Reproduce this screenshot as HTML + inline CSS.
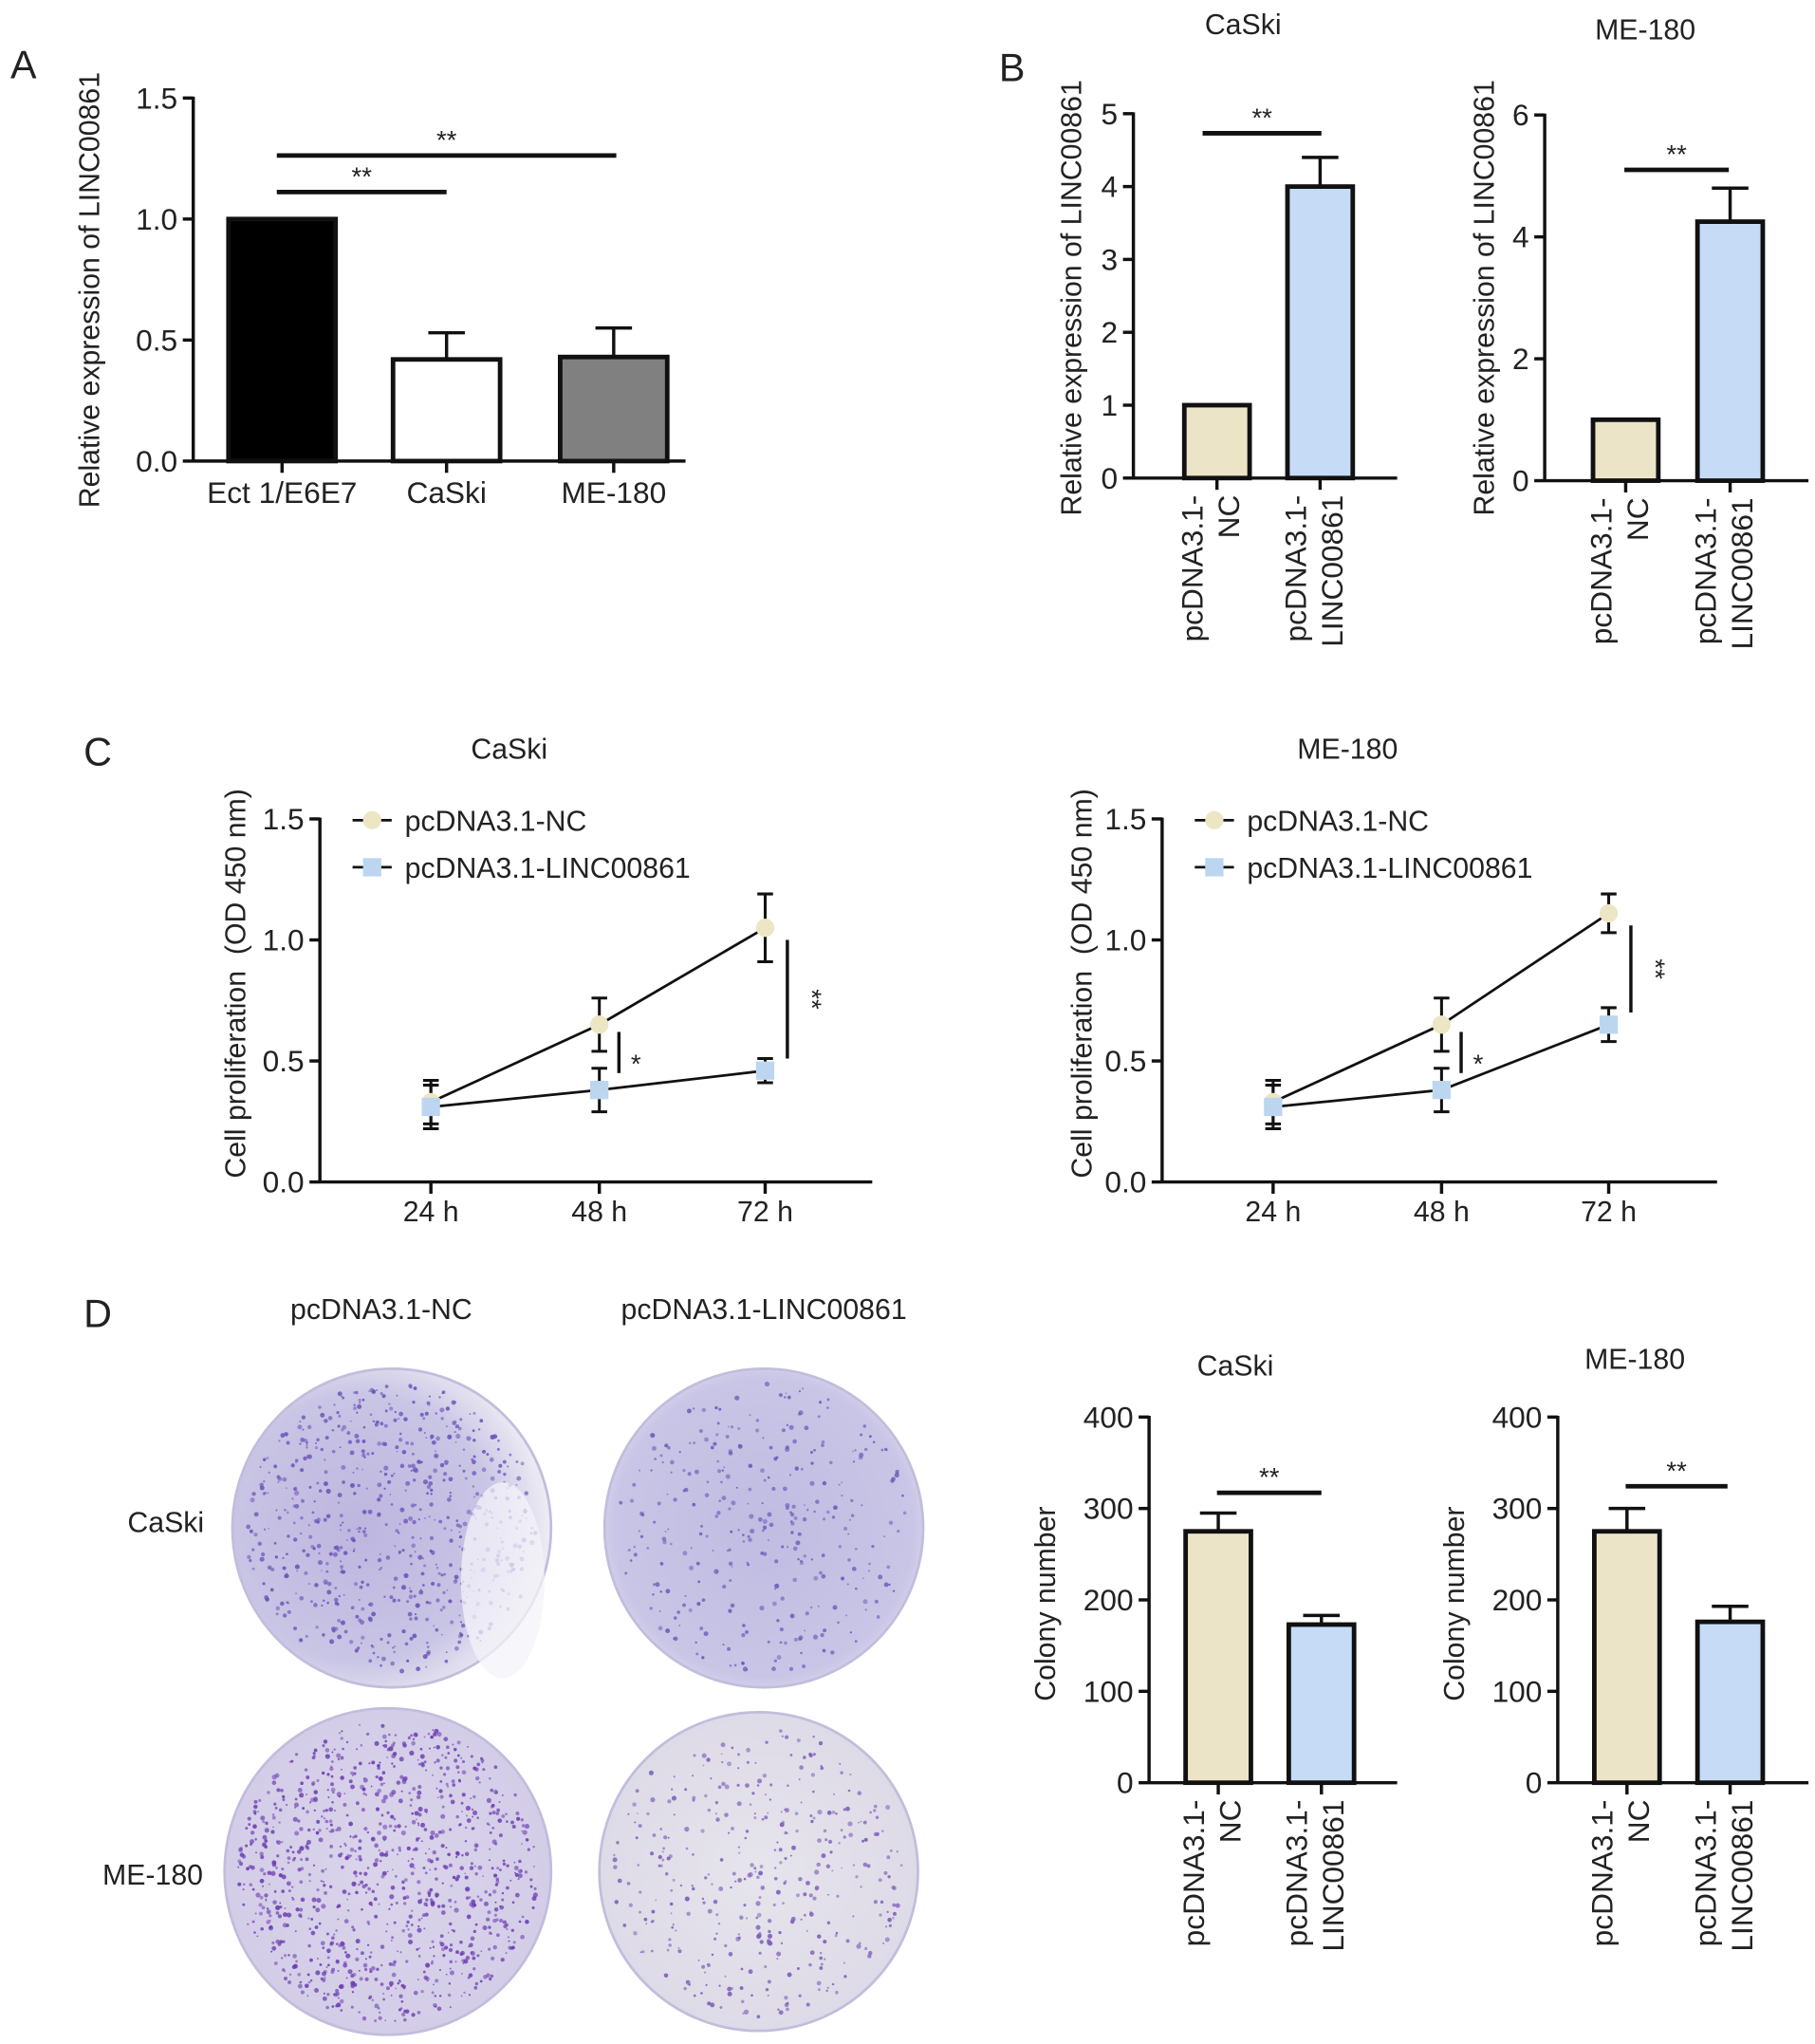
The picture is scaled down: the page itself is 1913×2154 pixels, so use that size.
<!DOCTYPE html>
<html><head><meta charset="utf-8"><style>
html,body{margin:0;padding:0;background:#fff}
svg{display:block}
text{font-family:"Liberation Sans",Arial,sans-serif;fill:#222}
</style></head><body>
<svg id="fig" width="1913" height="2154" viewBox="0 0 1390 1565" xmlns="http://www.w3.org/2000/svg">
<defs>
<radialGradient id="gTL" cx="40%" cy="50%" r="60%"><stop offset="0" stop-color="#bdb6df"/><stop offset="0.7" stop-color="#c9c5e5"/><stop offset="1" stop-color="#eeedf4"/></radialGradient>
<radialGradient id="gTR" cx="50%" cy="50%" r="55%"><stop offset="0" stop-color="#c0bce2"/><stop offset="0.85" stop-color="#c8c5e6"/><stop offset="1" stop-color="#dedcef"/></radialGradient>
<radialGradient id="gBL" cx="50%" cy="50%" r="55%"><stop offset="0" stop-color="#d9d3ea"/><stop offset="0.9" stop-color="#d4cde8"/><stop offset="1" stop-color="#c9c0e2"/></radialGradient>
<radialGradient id="gBR" cx="50%" cy="50%" r="55%"><stop offset="0" stop-color="#e6e4ec"/><stop offset="0.9" stop-color="#dedbe8"/><stop offset="1" stop-color="#d2cde3"/></radialGradient>
</defs>
<text x="8" y="60" font-size="30">A</text>
<text x="765" y="62" font-size="30">B</text>
<text x="64" y="586" font-size="30">C</text>
<text x="64" y="1016" font-size="30">D</text>
<text x="952" y="26" font-size="22" text-anchor="middle">CaSki</text>
<text x="1260" y="30" font-size="22" text-anchor="middle">ME-180</text>
<text x="390" y="581" font-size="22" text-anchor="middle">CaSki</text>
<text x="1032" y="581" font-size="22" text-anchor="middle">ME-180</text>
<text x="292" y="1010" font-size="22" text-anchor="middle">pcDNA3.1-NC</text>
<text x="585" y="1010" font-size="22" text-anchor="middle">pcDNA3.1-LINC00861</text>
<text x="127" y="1173" font-size="22" text-anchor="middle">CaSki</text>
<text x="117" y="1443" font-size="22" text-anchor="middle">ME-180</text>
<text x="946" y="1053" font-size="22" text-anchor="middle">CaSki</text>
<text x="1252" y="1048" font-size="22" text-anchor="middle">ME-180</text>
<text transform="translate(76,222) rotate(-90)" font-size="22" text-anchor="middle">Relative expression of LINC00861</text>
<text transform="translate(828,228) rotate(-90)" font-size="22" text-anchor="middle">Relative expression of LINC00861</text>
<text transform="translate(1144,228) rotate(-90)" font-size="22" text-anchor="middle">Relative expression of LINC00861</text>
<text transform="translate(188,753) rotate(-90)" font-size="22" text-anchor="middle" xml:space="preserve">Cell proliferation  (OD 450 nm)</text>
<text transform="translate(836,753) rotate(-90)" font-size="22" text-anchor="middle" xml:space="preserve">Cell proliferation  (OD 450 nm)</text>
<text transform="translate(808,1228) rotate(-90)" font-size="22" text-anchor="middle">Colony number</text>
<text transform="translate(1121,1228) rotate(-90)" font-size="22" text-anchor="middle">Colony number</text>
<g id="plates"></g>
<g id="charts"></g>
</svg>
<script>
const A_categories = ['Ect 1/E6E7', 'CaSki', 'ME-180'];
const A_values = [1.0, 0.42, 0.43];
const A_errors = [0, 0.11, 0.12];
const A_ticks = ['0.0', '0.5', '1.0', '1.5'];
const B_categories = ['NC', 'LINC00861'];
const B1_values = [1.0, 4.0];
const B1_errors = [0, 0.4];
const B1_ticks = [0, 1, 2, 3, 4, 5];
const B2_values = [1.0, 4.25];
const B2_errors = [0, 0.55];
const B2_ticks = [0, 2, 4, 6];
const C_categories = ['24 h', '48 h', '72 h'];
const C_ticks = ['0.0', '0.5', '1.0', '1.5'];
const C1_nc = [0.33, 0.65, 1.05];
const C1_nc_err = [0.09, 0.11, 0.14];
const C1_linc = [0.31, 0.38, 0.46];
const C1_linc_err = [0.09, 0.09, 0.05];
const C2_nc = [0.33, 0.65, 1.11];
const C2_nc_err = [0.09, 0.11, 0.08];
const C2_linc = [0.31, 0.38, 0.65];
const C2_linc_err = [0.09, 0.09, 0.07];
const D1_values = [275, 173];
const D1_errors = [20, 10];
const D2_values = [275, 176];
const D2_errors = [25, 17];
const D_ticks = [0, 100, 200, 300, 400];

const NS = 'http://www.w3.org/2000/svg';
const root = document.getElementById('charts');
function mk(tag, attrs, parent) {
  const el = document.createElementNS(NS, tag);
  for (const k in attrs) el.setAttribute(k, attrs[k]);
  (parent || root).appendChild(el);
  return el;
}
function line(x1, y1, x2, y2, w, name) {
  const el = mk('line', {x1, y1, x2, y2, stroke: '#111', 'stroke-width': w});
  
  
  return el;
}
function txt(x, y, s, size, anchor, name, tr) {
  const el = mk('text', {x, y, 'font-size': size, 'text-anchor': anchor});
  if (tr) el.setAttribute('transform', tr);
  el.textContent = s;
  
  
  return el;
}
function yAxis(p, ticks, tickLabels) {
  line(p.x0, p.yTop - 1, p.x0, p.y0 + 1, 2.5, p.id + '-y-axis');
  ticks.forEach((t, i) => {
    const y = p.ys(+t);
    line(p.x0 - 8, y, p.x0, y, 2.5, p.id + '-y-tick');
    txt(p.x0 - 12, y + 8, tickLabels[i], 23, 'end', p.id + '-y-tick-label');
  });
  line(p.x0, p.y0, p.x1, p.y0, 2.5, p.id + '-x-axis');
}
function scale(y0, yTop, vmax) { return v => y0 - (y0 - yTop) * v / vmax; }

function barChart(p, vals, errs, fills, cats, ticks) {
  yAxis(p, ticks, ticks.map(String));
  vals.forEach((v, i) => {
    const cx = p.cx[i], y = p.ys(v);
    const r = mk('rect', {x: cx - p.bw / 2, y: y, width: p.bw, height: p.y0 - y, fill: fills[i], stroke: '#111', 'stroke-width': 3.5});
    
    
    if (errs[i] > 0) {
      const ye = p.ys(v + errs[i]);
      line(cx, y, cx, ye, 2.5, p.id + '-error-bar');
      line(cx - 14, ye, cx + 14, ye, 2.5, p.id + '-error-cap');
    }
    line(cx, p.y0, cx, p.y0 + 9, 2.5, p.id + '-x-tick');
    if (p.rotLabels) {
      const yb = p.y0 + 13;
      txt(cx - 11, yb, 'pcDNA3.1-', 23, 'end', p.id + '-x-label', 'rotate(-90 ' + (cx - 11) + ' ' + yb + ')');
      txt(cx + 17, yb, cats[i], 23, 'end', p.id + '-x-label', 'rotate(-90 ' + (cx + 17) + ' ' + yb + ')');
    } else {
      txt(cx, p.y0 + 32, cats[i], 23, 'middle', p.id + '-x-label');
    }
  });
}
function sig(x1, x2, y, label, name) {
  line(x1, y, x2, y, 3.5, name);
  txt((x1 + x2) / 2, y - 5, label, 20, 'middle', name + '-stars');
}

const pA = {id: 'a', x0: 148, x1: 525, y0: 353, yTop: 75, bw: 82, cx: [216, 342, 470], rotLabels: false};
pA.ys = scale(353, 75, 1.5);
barChart(pA, A_values, A_errors, ['#000', '#fff', '#808080'], A_categories, A_ticks);
sig(212, 342, 147, '**', 'a-sig-caski');
sig(212, 472, 119, '**', 'a-sig-me180');

const fillsB = ['#ece4c6', '#c6dcf6'];
const pB1 = {id: 'b1', x0: 868, x1: 1070, y0: 366, yTop: 87, bw: 50, cx: [932, 1011], rotLabels: true};
pB1.ys = scale(366, 87, 5);
barChart(pB1, B1_values, B1_errors, fillsB, B_categories, B1_ticks);
sig(921, 1012, 102, '**', 'b1-sig');
const pB2 = {id: 'b2', x0: 1183, x1: 1385, y0: 368, yTop: 88, bw: 50, cx: [1245, 1325], rotLabels: true};
pB2.ys = scale(368, 88, 6);
barChart(pB2, B2_values, B2_errors, fillsB, B_categories, B2_ticks);
sig(1244, 1324, 130, '**', 'b2-sig');

function lineChart(p, nc, ncE, li, liE, sig2y) {
  yAxis(p, C_ticks.map(Number), C_ticks);
  C_categories.forEach((c, i) => {
    line(p.cx[i], p.y0, p.cx[i], p.y0 + 9, 2.5, p.id + '-x-tick');
    txt(p.cx[i], p.y0 + 30, c, 22, 'middle', p.id + '-x-label');
  });
  [[nc, ncE, 'nc'], [li, liE, 'linc']].forEach(([v, e, s]) => {
    const pts = v.map((d, i) => p.cx[i] + ',' + p.ys(d)).join(' ');
    const pl = mk('polyline', {points: pts, fill: 'none', stroke: '#111', 'stroke-width': 2});
    
    
    v.forEach((d, i) => {
      const x = p.cx[i], y1 = p.ys(d + e[i]), y2 = p.ys(d - e[i]);
      line(x, y1, x, y2, 2.2, p.id + '-error-bar-' + s);
      line(x - 6, y1, x + 6, y1, 2.2, p.id + '-error-cap-' + s);
      line(x - 6, y2, x + 6, y2, 2.2, p.id + '-error-cap-' + s);
    });
  });
  nc.forEach((d, i) => {
    const c = mk('circle', {cx: p.cx[i], cy: p.ys(d), r: 7, fill: '#ece6c4'});
    
    
  });
  li.forEach((d, i) => {
    const r = mk('rect', {x: p.cx[i] - 7, y: p.ys(d) - 7, width: 14, height: 14, fill: '#bcd6f0'});
    
    
  });
  const s1x = p.cx[1] + 15;
  line(s1x, p.ys(nc[1] - 0.03), s1x, p.ys(li[1] + 0.07), 2.5, p.id + '-sig-48h');
  txt(s1x + 13, p.ys((nc[1] + li[1]) / 2) + 12, '*', 20, 'middle', p.id + '-sig-48h-star');
  const s2x = p.cx[2] + 17;
  const top = nc[2] - 0.05, bot = li[2] + sig2y;
  line(s2x, p.ys(top), s2x, p.ys(bot), 2.5, p.id + '-sig-72h');
  txt(s2x + 12, p.ys((top + bot) / 2), '**', 20, 'middle', p.id + '-sig-72h-stars', 'rotate(90 ' + (s2x + 12) + ' ' + p.ys((top + bot) / 2) + ')');
  line(p.x0 + 25, 628, p.x0 + 55, 628, 2, p.id + '-legend-line-nc');
  const lc = mk('circle', {cx: p.x0 + 40, cy: 628, r: 7, fill: '#ece6c4'});
  
  
  txt(p.x0 + 65, 636, 'pcDNA3.1-NC', 22, 'start', p.id + '-legend-label-nc');
  line(p.x0 + 25, 664, p.x0 + 55, 664, 2, p.id + '-legend-line-linc');
  const ls = mk('rect', {x: p.x0 + 33, y: 657, width: 14, height: 14, fill: '#bcd6f0'});
  
  
  txt(p.x0 + 65, 672, 'pcDNA3.1-LINC00861', 22, 'start', p.id + '-legend-label-linc');
}
const pC1 = {id: 'c1', x0: 245, x1: 668, y0: 905, yTop: 627, cx: [330, 459, 586]};
pC1.ys = scale(905, 627, 1.5);
lineChart(pC1, C1_nc, C1_nc_err, C1_linc, C1_linc_err, 0.05);
const pC2 = {id: 'c2', x0: 890, x1: 1315, y0: 905, yTop: 627, cx: [975, 1104, 1232]};
pC2.ys = scale(905, 627, 1.5);
lineChart(pC2, C2_nc, C2_nc_err, C2_linc, C2_linc_err, 0.05);

const pD1 = {id: 'd1', x0: 880, x1: 1070, y0: 1365, yTop: 1085, bw: 50, cx: [933, 1012], rotLabels: true};
pD1.ys = scale(1365, 1085, 400);
barChart(pD1, D1_values, D1_errors, fillsB, B_categories, D_ticks);
sig(932, 1012, 1143, '**', 'd1-sig');
const pD2 = {id: 'd2', x0: 1193, x1: 1385, y0: 1365, yTop: 1085, bw: 50, cx: [1246, 1325], rotLabels: true};
pD2.ys = scale(1365, 1085, 400);
barChart(pD2, D2_values, D2_errors, fillsB, B_categories, D_ticks);
sig(1245, 1323, 1138, '**', 'd2-sig');

const pg = document.getElementById('plates');
let seed = 7;
function rnd() { seed = (seed * 16807) % 2147483647; return seed / 2147483647; }
[[300, 1170, 122, 'gTL', 650, '#6b52b8', 'plate-caski-nc'],
 [585, 1170, 122, 'gTR', 320, '#6a5ab8', 'plate-caski-linc'],
 [297, 1433, 125, 'gBL', 1000, '#6a3cb0', 'plate-me180-nc'],
 [581, 1433, 122, 'gBR', 380, '#7a5ab8', 'plate-me180-linc']].forEach(([cx, cy, r, g, n, col, name]) => {
  const c = mk('circle', {cx, cy, r, fill: 'url(#' + g + ')', stroke: '#c2bddc', 'stroke-width': 2}, pg);
  
  
  for (let i = 0; i < n; i++) {
    const a = rnd() * Math.PI * 2, d = Math.sqrt(rnd()) * (r - 10);
    mk('circle', {cx: cx + d * Math.cos(a), cy: cy + d * Math.sin(a), r: 0.6 + rnd() * 1.3, fill: col, opacity: 0.5 + rnd() * 0.4}, pg);
  }
});
const glare = mk('ellipse', {cx: 385, cy: 1210, rx: 32, ry: 75, fill: '#f4f3f8', opacity: 0.75}, pg);


</script>
</body></html>
